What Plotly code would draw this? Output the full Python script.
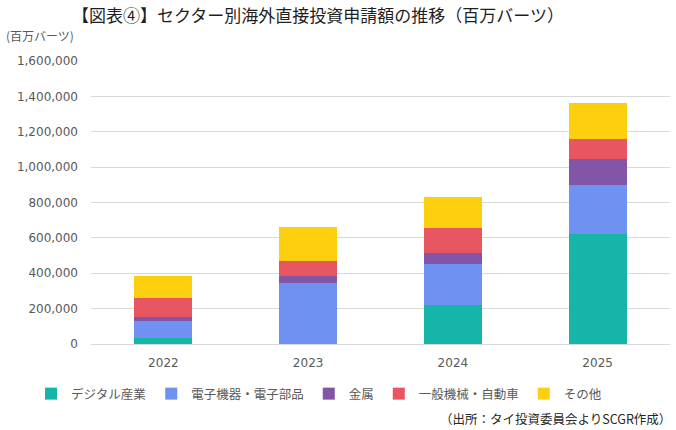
import plotly.graph_objects as go

years = ["2022", "2023", "2024", "2025"]
series_names = ["デジタル産業", "電子機器・電子部品", "金属", "一般機械・自動車", "その他"]
digital = [34000, 2000, 219000, 623000]
electronics = [96000, 342000, 231000, 276000]
metals = [23000, 41000, 66000, 146000]
machinery = [108000, 87000, 138000, 113000]
others = [124000, 191000, 179000, 202000]
colors = ["#15B5A8", "#6F92F2", "#8355A7", "#E85661", "#FDD00F"]
y_ticks = [0, 200000, 400000, 600000, 800000, 1000000, 1200000, 1400000, 1600000]

W, H = 676, 430
L, R, T, B = 91, 6, 61, 86
pw, ph = W - L - R, H - T - B

fig = go.Figure()
for name, vals, c in zip(series_names, [digital, electronics, metals, machinery, others], colors):
    fig.add_trace(go.Bar(x=years, y=vals, name=name, marker=dict(color=c, line=dict(width=0))))

jp = "Noto Sans CJK JP"
fig.update_layout(
    width=W, height=H,
    margin=dict(l=L, r=R, t=T, b=B, pad=0, autoexpand=False),
    barmode="stack", bargap=0.6,
    paper_bgcolor="white", plot_bgcolor="white",
    font=dict(family="DejaVu Sans", size=12, color="#595959"),
    title=dict(text="【図表④】セクター別海外直接投資申請額の推移（百万バーツ）",
               xref="container", x=318 / W, xanchor="center", y=1 - 16 / H, yanchor="middle",
               font=dict(family=jp, size=17, color="#1F1F1F")),
    xaxis=dict(showgrid=False, showline=False, ticks="", ticklabelstandoff=10,
               tickfont=dict(size=12, color="#595959")),
    yaxis=dict(range=[0, 1600000], tickvals=y_ticks, tickformat=",d", showgrid=True,
               gridcolor="#D9D9D9", gridwidth=1, zeroline=True, zerolinecolor="#D9D9D9",
               zerolinewidth=1, ticks="", ticklabelstandoff=12, tickfont=dict(size=12, color="#595959")),
    legend=dict(orientation="h", xref="container", yref="container",
                x=31 / W, xanchor="left", y=1 - 394 / H, yanchor="middle",
                font=dict(family=jp, size=12.5, color="#595959"), itemwidth=30,
                traceorder="normal", bgcolor="rgba(0,0,0,0)"),
    annotations=[
        dict(text="(百万バーツ)", xref="paper", yref="paper", x=(4 - L) / pw, y=(344 - 35) / ph,
             xanchor="left", yanchor="middle", showarrow=False,
             font=dict(family=jp, size=12, color="#595959")),
        dict(text="（出所：タイ投資委員会よりSCGR作成）", xref="paper", yref="paper", x=(673 - L) / pw,
             y=(344 - 418) / ph, xanchor="right", yanchor="middle", showarrow=False,
             font=dict(family=jp, size=12.5, color="#262626")),
    ],
)

fig.write_html("out.html", config={"displayModeBar": False},
               post_script="document.body.style.margin='0';document.body.style.padding='0';")
